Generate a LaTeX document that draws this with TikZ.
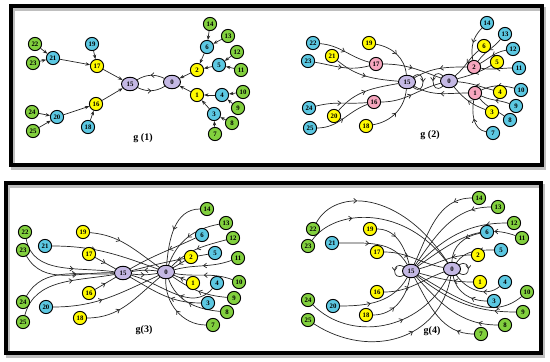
\documentclass[tikz,border=0pt]{standalone}
\usepackage{fontspec}
\setmainfont{Liberation Serif}
\usetikzlibrary{shapes.geometric,arrows.meta,decorations.markings}
\pgfdeclarelayer{bg}
\pgfsetlayers{bg,main}
\definecolor{grn}{RGB}{130,208,62}
\definecolor{cyn}{RGB}{92,200,226}
\definecolor{yel}{RGB}{255,250,0}
\definecolor{pur}{RGB}{196,184,228}
\definecolor{pnk}{RGB}{246,166,190}
\tikzset{
  nd/.style={circle,draw=black,line width=0.95pt,minimum size=13.2pt,inner sep=0pt,
    font=\fontsize{6.8}{6.8}\selectfont\bfseries},
  gr/.style={nd,fill=grn}, cy/.style={nd,fill=cyn}, ye/.style={nd,fill=yel},
  pk/.style={nd,fill=pnk},
  pu/.style={nd,ellipse,minimum width=17pt,minimum height=13.5pt,fill=pur},
  ae/.style={draw=black!85,line width=0.7pt,-{Stealth[length=4.5pt,width=3.4pt]}},
  ed/.style={draw=black!85,line width=0.7pt,postaction={decorate},
    decoration={markings,mark=at position #1 with {\arrow{Straight Barb[length=3pt,width=4.8pt]}}}},
  ed/.default=0.5,
  frm/.style={line width=4.5pt,line join=miter},
  shd/.style={line width=4pt,draw=black!25},
  glab/.style={font=\fontsize{10}{10}\selectfont\bfseries}
}
\begin{document}
\begin{tikzpicture}[x=1pt,y=-1pt]
\useasboundingbox (0,0) rectangle (550,362);
% frames
\draw[shd] (13,9) rectangle (544,168);
\draw[frm] (11,6) rectangle (542,165);
\draw[shd] (8,186) rectangle (543,356);
\draw[frm] (6,183) rectangle (541,353);

% ---------- g(1) ----------
\foreach \n/\x/\y/\s in {22/35/44/gr,23/33/63/gr,21/53/58/cy,19/92/44/cy,17/97/66/ye,
  16/96/104/ye,24/32/112/gr,25/33/131/gr,20/57/117/cy,18/88/127/cy,
  14/210/24/gr,13/228/36/gr,6/207/47/cy,12/237/52/gr,5/219/65/cy,11/241/70/gr,2/197/70/ye,
  1/197/95/ye,4/222/95/cy,10/243/92/gr,9/238/108/gr,3/214/114/cy,8/232/123/gr,7/215/134/gr}
  \node[\s] (a\n) at (\x,\y) {\n};
\node[pu] (a15) at (130,84) {15};
\node[pu] (a0) at (172,82) {0};
\begin{pgfonlayer}{bg}
\foreach \s/\t in {22/21,23/21,21/17,19/17,17/15,24/20,25/20,20/16,18/16,16/15,
  14/6,13/6,6/2,12/5,11/5,5/2,2/0,10/4,9/4,4/1,8/3,7/3,3/1,1/0}
  \draw[ae] (a\s) -- (a\t);
\draw[ed] (a0) to[bend right=28] (a15);
\draw[ed] (a15) to[bend right=28] (a0);
\end{pgfonlayer}
\node[glab] (la) at (143,138) {g (1)};

% ---------- g(2) ----------
\foreach \n/\x/\y/\s in {22/313/43/cy,23/308/61/cy,21/332/56/ye,19/369/43/ye,17/376/64/pk,
  16/374/102/pk,24/309/108/cy,20/334/116/ye,25/310/128/cy,18/366/126/ye,
  14/487/23/cy,13/505/34/cy,6/484/46/ye,12/513/49/cy,2/474/67/pk,5/497/62/ye,11/519/68/cy,
  1/475/93/pk,4/500/92/ye,10/521/90/cy,9/516/106/cy,3/492/112/ye,8/510/120/cy,7/493/133/cy}
  \node[\s] (b\n) at (\x,\y) {\n};
\node[pu] (b15) at (407,82) {15};
\node[pu] (b0) at (449,81) {0};
\begin{pgfonlayer}{bg}
\draw[ed] (b22) to[out=-5,in=165] (b17);
\draw[ed] (b23) to[out=-10,in=195] (b17);
\draw[ed] (b21) to[out=-40,in=175] (b15);
\draw[ed] (b19) to[out=-10,in=95] (b15);
\draw[ed] (b17) to[out=0,in=160] (b0);
\draw[ed] (b24) to[out=15,in=185] (b16);
\draw[ed] (b25) to[out=0,in=-160] (b16);
\draw[ed] (b20) to[out=50,in=190] (b15);
\draw[ed] (b18) to[out=10,in=-95] (b15);
\draw[ed] (b16) to[out=0,in=-165] (b0);
\draw[ed] (b15) to[out=40,in=-40,min distance=17pt] (b15);
\draw[ed] (b0) to[out=140,in=-140,min distance=17pt] (b0);
\draw[ed] (b2) to[out=180,in=30] (b15);
\draw[ed] (b1) to[out=180,in=-30] (b15);
\draw[ed] (b14) to[out=225,in=100] (b2);
\draw[ed] (b13) to[out=-130,in=55] (b2);
\draw[ed] (b12) to[out=190,in=30] (b2);
\draw[ed] (b11) to[out=180,in=-10] (b2);
\draw[ed] (b6) to[out=-140,in=40] (b0);
\draw[ed] (b5) to[out=-150,in=15] (b0);
\draw[ed] (b10) to[out=165,in=25] (b1);
\draw[ed] (b4) to[out=165,in=-5] (b0);
\draw[ed] (b9) to[out=160,in=-25] (b1);
\draw[ed] (b8) to[out=145,in=-50] (b1);
\draw[ed] (b3) to[out=160,in=-50] (b0);
\draw[ed] (b7) to[out=170,in=-100] (b1);
\end{pgfonlayer}
\node[glab] (lb) at (430,135) {g (2)};

% ---------- g(3) ----------
\foreach \n/\x/\y/\s in {22/25/232/gr,23/23/250/gr,21/45/246/cy,19/83/232/ye,17/89/254/ye,
  16/89/293/ye,24/23/302/gr,25/23/322/gr,20/46/307/cy,18/80/318/ye,
  14/207/209/gr,13/226/223/gr,6/202/235/cy,12/233/238/gr,5/215/253/cy,2/191/257/ye,11/238/258/gr,
  10/239/282/gr,4/217/283/cy,1/193/283/ye,9/234/298/gr,3/208/303/cy,8/227/312/gr,7/213/325/gr}
  \node[\s] (c\n) at (\x,\y) {\n};
\node[pu] (c15) at (123,273) {15};
\node[pu] (c0) at (166,272) {0};
\begin{pgfonlayer}{bg}
\draw[ed=0.6] (c22) to[out=-80,in=172] (c15);
\draw[ed=0.6] (c23) to[out=-60,in=178] (c15);
\draw[ed=0.6] (c24) to[out=60,in=184] (c15);
\draw[ed=0.6] (c25) to[out=75,in=190] (c15);
\draw[ed=0.4] (c21) to[out=0,in=160] (c0);
\draw[ed=0.4] (c19) to[out=-5,in=145] (c0);
\draw[ed] (c17) -- (c15);
\draw[ed] (c16) -- (c15);
\draw[ed=0.45] (c20) to[out=0,in=-155] (c0);
\draw[ed=0.4] (c18) to[out=0,in=-140] (c0);
\draw[ed] (c15) to[bend right=8] (c0);
\draw[ed] (c0) to[bend right=8] (c15);
\draw[ed] (c14) to[out=180,in=85] (c0);
\draw[ed] (c13) to[out=190,in=70] (c0);
\draw[ed] (c12) to[out=195,in=45] (c0);
\draw[ed] (c11) to[out=200,in=15] (c0);
\draw[ed] (c10) to[out=160,in=-10] (c0);
\draw[ed] (c9) to[out=175,in=-35] (c0);
\draw[ed] (c8) to[out=175,in=-70] (c0);
\draw[ed] (c7) to[out=180,in=-92] (c0);
\draw[ed] (c2) -- (c0);
\draw[ed] (c1) -- (c0);
\draw[ed=0.4] (c6) to[out=205,in=30] (c15);
\draw[ed=0.4] (c5) to[out=190,in=15] (c15);
\draw[ed=0.4] (c4) to[out=-130,in=-15] (c15);
\draw[ed=0.4] (c3) to[out=180,in=-30] (c15);
\end{pgfonlayer}
\node[glab] (lc) at (144,330) {g(3)};

% ---------- g(4) ----------
\foreach \n/\x/\y/\s in {22/313/229/gr,23/308/246/gr,21/332/243/cy,19/370/229/ye,17/377/252/ye,
  16/377/292/ye,24/308/300/gr,20/333/306/cy,25/308/320/gr,18/366/315/ye,
  14/479/198/gr,13/498/207/gr,12/514/223/gr,11/522/238/gr,6/487/232/cy,5/501/250/cy,2/478/255/ye,
  4/505/282/cy,1/480/282/ye,10/527/292/gr,3/494/301/cy,9/523/312/gr,8/505/325/gr,7/481/334/gr}
  \node[\s] (d\n) at (\x,\y) {\n};
\node[pu] (d15) at (411,271) {15};
\node[pu] (d0) at (452,269) {0};
\begin{pgfonlayer}{bg}
\draw[ed=0.3] (d22) .. controls (335,188) and (400,190) .. (d0);
\draw[ed=0.3] (d23) .. controls (335,208) and (405,205) .. (d0);
\draw[ed=0.6] (d24) .. controls (350,342) and (420,332) .. (d0);
\draw[ed=0.6] (d25) .. controls (370,360) and (440,340) .. (d0);
\draw[ed=0.4] (d21) to[out=0,in=120] (d15);
\draw[ed=0.4] (d19) to[out=0,in=105] (d15);
\draw[ed=0.4] (d17) to[out=0,in=170] (d0);
\draw[ed=0.4] (d16) to[out=0,in=-160] (d0);
\draw[ed=0.4] (d20) to[out=0,in=-120] (d15);
\draw[ed=0.4] (d18) to[out=0,in=-100] (d15);
\draw[ed] (d15) to[out=150,in=210,min distance=14pt] (d15);
\draw[ed] (d0) to[out=30,in=-30,min distance=14pt] (d0);
\draw[ed=0.2] (d14) to[out=180,in=65] (d15);
\draw[ed=0.2] (d13) to[out=180,in=55] (d15);
\draw[ed=0.2] (d12) to[out=180,in=45] (d15);
\draw[ed=0.2] (d11) to[out=160,in=35] (d15);
\draw[ed=0.25] (d10) to[out=220,in=-30] (d15);
\draw[ed=0.2] (d9) to[out=180,in=-38] (d15);
\draw[ed=0.2] (d8) to[out=180,in=-48] (d15);
\draw[ed=0.2] (d7) to[out=180,in=-62] (d15);
\draw[ed=0.35] (d6) to[out=190,in=90] (d0);
\draw[ed=0.35] (d5) to[out=180,in=55] (d0);
\draw[ed=0.35] (d2) to[out=180,in=15] (d15);
\draw[ed=0.35] (d1) to[out=180,in=-15] (d15);
\draw[ed=0.35] (d4) to[out=220,in=-55] (d0);
\draw[ed=0.35] (d3) to[out=180,in=-80] (d0);
\end{pgfonlayer}
\node[glab] (ld) at (432,331) {g(4)};
\end{tikzpicture}
\end{document}
